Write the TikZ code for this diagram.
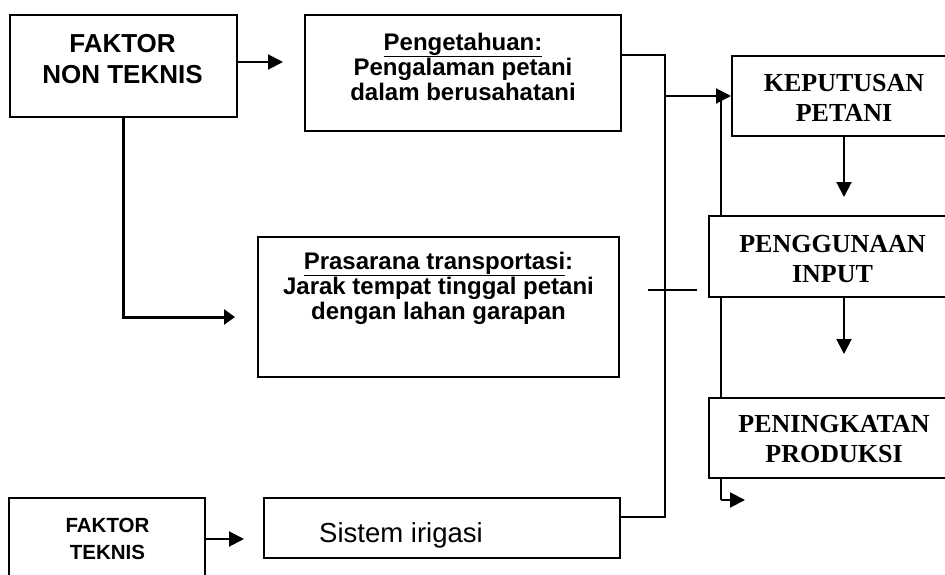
\documentclass[tikz,border=0pt]{standalone}
\usepackage{fontspec}
\setmainfont{Liberation Sans}
\newfontfamily\sansf{Liberation Sans}
\newfontfamily\seriff{Liberation Serif}
\usetikzlibrary{arrows.meta,calc}
\begin{document}
\begin{tikzpicture}[x=1pt,y=-1pt,
  box/.style={draw,line width=2pt,fill=white,inner sep=0pt,rectangle},
  conn/.style={line width=2pt},
  thickconn/.style={line width=3pt},
  arr/.style={line width=2pt,-{Triangle[length=15pt,width=15pt]}},
  thickarr/.style={line width=3pt,-{Triangle[length=11pt,width=15pt]}},
  lbl/.style={inner sep=0pt,align=center,anchor=base,font=\sansf\bfseries\fontsize{26}{31}\selectfont},
  slbl/.style={inner sep=0pt,align=center,anchor=base,font=\sansf\bfseries\fontsize{24}{25}\selectfont},
  rlbl/.style={inner sep=0pt,align=center,anchor=base,font=\seriff\bfseries\fontsize{26}{30}\selectfont}]
\clip (0,0) rectangle (945,574);
\fill[white] (0,0) rectangle (945,574);
% feedback line running behind the right-hand boxes
\coordinate (fbtop) at (721,96);
\coordinate (fbbot) at (721,500);
\coordinate (fbend) at (745,500);
\draw[conn] (fbtop) -- (fbbot);
\draw[arr] (fbbot) -- (fbend);
% boxes
\node[box,minimum width=227pt,minimum height=102pt] (nonteknis) at (123.5,66) {};
\node[box,minimum width=316pt,minimum height=116pt] (peng) at (463,73) {};
\node[box,minimum width=361pt,minimum height=140pt] (pras) at (438.5,307) {};
\node[box,minimum width=356pt,minimum height=60pt] (irig) at (442,528) {};
\node[box,minimum width=196pt,minimum height=102pt] (teknis) at (107,549) {};
\node[box,minimum width=228pt,minimum height=80pt] (kep) at (846,96) {};
\node[box,minimum width=251pt,minimum height=81pt] (peng2) at (834.5,256.5) {};
\node[box,minimum width=251pt,minimum height=80pt] (prod) at (834.5,438) {};
% texts (anchor = baseline of the last line)
\node[lbl] (tnon) at (122.5,83) {FAKTOR\\NON TEKNIS};
\node[slbl] (tpeng) at (463,100) {\underline{Pengetahuan:}\\Pengalaman petani\\dalam berusahatani};
\node[slbl] (tpras) at (438.5,319) {\underline{Prasarana transportasi}:\\Jarak tempat tinggal petani\\dengan lahan garapan};
\node[inner sep=0pt,anchor=base,font=\sansf\fontsize{27.5}{30}\selectfont] (tirig) at (401,542) {Sistem irigasi};
\node[inner sep=0pt,align=center,anchor=base,font=\sansf\bfseries\fontsize{20.5}{27}\selectfont] (tteknis) at (107.5,559) {FAKTOR\\TEKNIS};
\node[rlbl] (tkep) at (844,121) {KEPUTUSAN\\PETANI};
\node[rlbl] (tpeng2) at (832.5,282) {PENGGUNAAN\\INPUT};
\node[rlbl] (tprod) at (834,462) {PENINGKATAN\\PRODUKSI};
% connectors
\coordinate (a1) at (283,62);
\draw[arr] (nonteknis.east |- a1) -- (a1);
\coordinate (a2) at (235,317);
\draw[thickarr] (nonteknis.south) |- (a2);
\coordinate (a3) at (244,539);
\draw[arr] (teknis.east |- a3) -- (a3);
\coordinate (bt) at (665,55);
\coordinate (bb) at (665,517);
\draw[conn] ([xshift=-2pt]peng.east |- bt) -- (bt) -- (bb) -- (irig.east |- bb);
\draw[arr] (bt |- kep.west) -- (kep.west);
\coordinate (c1) at (648,290);
\coordinate (c2) at (697,290);
\draw[conn] (c1) -- (c2);
\coordinate (d1) at (844,136);
\draw[arr] (d1) -- ++(0,61);
\coordinate (d2) at (844,297);
\draw[arr] (d2) -- ++(0,57);
\end{tikzpicture}
\end{document}
